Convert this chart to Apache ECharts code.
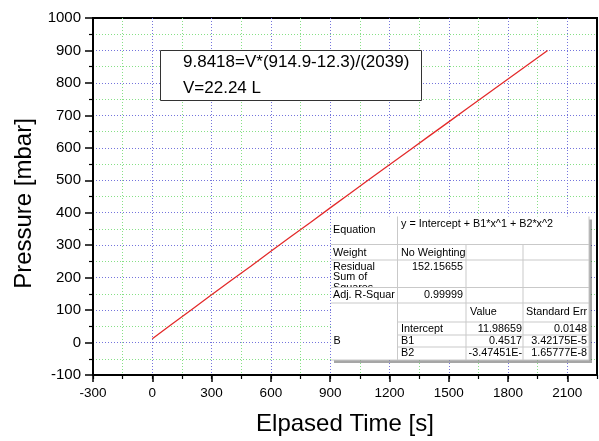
<!DOCTYPE html>
<html>
<head>
<meta charset="utf-8">
<script src="https://cdn.jsdelivr.net/npm/echarts@6/dist/echarts.min.js"></script>
<style>
  html, body { margin: 0; padding: 0; background: #fff; }
  #chart { width: 599px; height: 441px; }
</style>
</head>
<body>
<div id="chart"></div>
<script>
// Chamber pressure while filling, sampled every 100 s
const elapsedTime = [0, 100, 200, 300, 400, 500, 600, 700, 800, 900, 1000,
                     1100, 1200, 1300, 1400, 1500, 1600, 1700, 1800, 1900, 2000];
const pressure = [12, 57, 102, 147, 192, 236, 281, 326, 370, 415, 459,
                  504, 548, 592, 636, 680, 724, 768, 812, 856, 900];

// Axis ranges and steps
const xRange = [-300, 2250];
const xMajor = 300;
const xMinor = 150;
const yRange = [-100, 1000];
const yMajor = 100;

// Volume note
const noteLines = ['9.8418=V*(914.9-12.3)/(2039)', 'V=22.24 L'];

// Polynomial fit report
const fitEquation = 'y = Intercept + B1*x^1 + B2*x^2';
const fitWeight = 'No Weighting';
const fitResidual = '152.15655';
const fitAdjR2 = '0.99999';
const paramHeader = ['Value', 'Standard Err'];
const paramNames = ['Intercept', 'B1', 'B2'];
const paramValues = ['11.98659', '0.4517', '-3.47451E-'];
const paramErrors = ['0.0148', '3.42175E-5', '1.65777E-8'];

const FONT = '"Liberation Sans", Arial, Helvetica, sans-serif';
const chart = echarts.init(document.getElementById('chart'), null, { renderer: 'canvas' });

const seriesData = elapsedTime.map((t, i) => [t, pressure[i]]);
const plainNumber = (v) => String(v);

// ---- fit report table layout ----
const T = { x: 331, y: 216.5, r: 589, b: 360 };
const colX = [T.x, 397.5, 466, 523, T.r];
const rowY = [T.y, 244.5, 260, 287.5, 303, 322, 335, 347, T.b];
const gridColor = '#c9c9c9';
const tf = (size) => size + 'px ' + FONT;

function txt(x, y, s, align, size) {
  return {
    type: 'text', z: 100,
    style: {
      x: x, y: y, text: s, fill: '#000', font: tf(size || 10.8),
      align: align || 'left', verticalAlign: 'middle',
      textAlign: align || 'left', textVerticalAlign: 'middle'
    }
  };
}
function hl(x1, x2, y) {
  return { type: 'line', z: 100, shape: { x1: x1, y1: y, x2: x2, y2: y },
           style: { stroke: gridColor, lineWidth: 1 } };
}
function vl(x, y1, y2) {
  return { type: 'line', z: 100, shape: { x1: x, y1: y1, x2: x, y2: y2 },
           style: { stroke: gridColor, lineWidth: 1 } };
}

const table = [];
// white panel with drop shadow
table.push({
  type: 'rect', z: 100,
  shape: { x: T.x, y: T.y, width: T.r - T.x, height: T.b - T.y },
  style: { fill: '#fff', shadowColor: 'rgba(0,0,0,0.35)', shadowOffsetX: 3, shadowOffsetY: 3, shadowBlur: 0 }
});
// third line of the wrapped "Residual Sum of Squares" label, cut by the cell edge
table.push(txt(333, rowY[3] + 1, 'Squares'));
table.push({
  type: 'rect', z: 100,
  shape: { x: T.x + 0.5, y: rowY[3], width: colX[1] - T.x - 1, height: 15 },
  style: { fill: '#fff' }
});
// horizontal rules
table.push(hl(T.x, T.r, rowY[1]));
table.push(hl(T.x, T.r, rowY[2]));
table.push(hl(T.x, T.r, rowY[3]));
table.push(hl(T.x, T.r, rowY[4]));
table.push(hl(colX[1], T.r, rowY[5]));
table.push(hl(colX[1], T.r, rowY[6]));
table.push(hl(colX[1], T.r, rowY[7]));
// vertical rules
table.push(vl(colX[1], T.y, T.b));
table.push(vl(colX[2], rowY[1], T.b));
table.push(vl(colX[3], rowY[1], T.b));
// outer edge (right and bottom)
table.push(vl(T.r, T.y, T.b));
table.push(hl(T.x, T.r, T.b));

// cell texts
table.push(txt(333, 230.5, 'Equation'));
table.push(txt(401, 224, fitEquation));
table.push(txt(333, 253, 'Weight'));
table.push(txt(401, 253, fitWeight));
table.push(txt(333, 267, 'Residual'));
table.push(txt(333, 277, 'Sum of'));
table.push(txt(463, 267, fitResidual, 'right'));
table.push(txt(333, 295.5, 'Adj. R-Squar'));
table.push(txt(463, 295.5, fitAdjR2, 'right'));
table.push(txt(470, 312.5, paramHeader[0]));
table.push(txt(526, 312.5, paramHeader[1]));
table.push(txt(333.5, 341.5, 'B'));
const rowMid = [329, 341.5, 353];
paramNames.forEach((n, i) => {
  table.push(txt(401, rowMid[i], n));
  table.push(txt(522, rowMid[i], paramValues[i], 'right'));
  table.push(txt(587, rowMid[i], paramErrors[i], 'right'));
});

// ---- volume note box ----
const note = [
  { type: 'rect', z: 100, shape: { x: 160.5, y: 50.5, width: 261, height: 50 },
    style: { fill: '#fff', stroke: '#333', lineWidth: 1 } },
  txt(183, 62, noteLines[0], 'left', 17),
  txt(183, 88.5, noteLines[1], 'left', 17)
];

const dotted = [1, 2];

const option = {
  backgroundColor: '#fff',
  animation: false,
  grid: {
    left: 93, right: 2, top: 18, bottom: 61,
    show: true, borderColor: '#000', borderWidth: 2, backgroundColor: 'transparent'
  },
  xAxis: [
    {
      // minor ticks and green minor grid
      type: 'value', min: xRange[0], max: xRange[1], interval: xMinor, position: 'bottom',
      axisLine: { show: false, onZero: false },
      axisLabel: { show: false },
      axisTick: { show: true, length: 4, lineStyle: { color: '#000', width: 1.2 } },
      splitLine: { show: true, showMinLine: false, showMaxLine: false,
                   lineStyle: { color: '#86e086', width: 1, type: dotted } }
    },
    {
      // major ticks, labels and blue major grid
      type: 'value', min: xRange[0], max: xRange[1], interval: xMajor, position: 'bottom',
      axisLine: { show: true, onZero: false, lineStyle: { color: '#000', width: 2 } },
      axisTick: { show: true, length: 7, lineStyle: { color: '#000', width: 1.5 } },
      axisLabel: { showMaxLabel: false, color: '#000', fontSize: 13.5, fontFamily: FONT, margin: 11,
                   formatter: plainNumber },
      splitLine: { show: true, showMinLine: false, showMaxLine: false,
                   lineStyle: { color: '#7474dc', width: 1, type: dotted } },
      name: 'Elpased Time [s]', nameLocation: 'middle', nameGap: 37,
      nameTextStyle: { color: '#000', fontSize: 24, fontFamily: FONT }
    }
  ],
  yAxis: {
    type: 'value', min: yRange[0], max: yRange[1], interval: yMajor,
    axisLine: { show: true, onZero: false, lineStyle: { color: '#000', width: 2 } },
    axisTick: { show: true, length: 8, lineStyle: { color: '#000', width: 1.5 } },
    minorTick: { show: true, splitNumber: 2, length: 4, lineStyle: { color: '#000', width: 1.2 } },
    axisLabel: { color: '#000', fontSize: 15, fontFamily: FONT, margin: 12, formatter: plainNumber },
    splitLine: { show: true, showMinLine: false, showMaxLine: false,
                 lineStyle: { color: '#7474dc', width: 1, type: dotted } },
    minorSplitLine: { show: true, lineStyle: { color: '#86e086', width: 1, type: dotted } },
    name: 'Pressure [mbar]', nameLocation: 'middle', nameGap: 57,
    nameTextStyle: { color: '#000', fontSize: 24, fontFamily: FONT, padding: [0, 14, 0, 0] }
  },
  series: [{
    type: 'line', xAxisIndex: 1, data: seriesData,
    showSymbol: false, symbol: 'none',
    lineStyle: { color: '#e32b2b', width: 1.3 },
    z: 5
  }],
  graphic: { elements: note.concat(table) }
};

chart.setOption(option);
</script>
</body>
</html>
